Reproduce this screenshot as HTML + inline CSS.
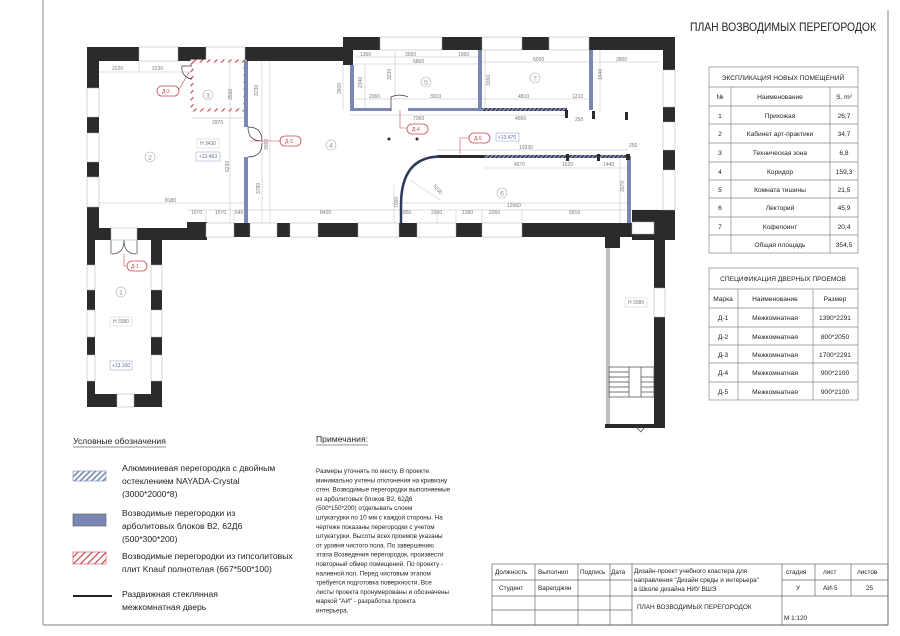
<!DOCTYPE html>
<html><head><meta charset="utf-8"><style>
html,body{margin:0;padding:0;background:#fff;}
svg{display:block;font-family:"Liberation Sans","DejaVu Sans",sans-serif;}
.d{font-size:5px;fill:#777;}
.t{font-size:7px;fill:#222;}
.lg{font-size:8.6px;fill:#222;}
.nt{font-size:6.3px;fill:#222;}
.tag{fill:#fff;stroke:#c8464f;stroke-width:0.8;}
.tagt{font-size:5px;fill:#c8464f;}
</style></head><body>
<svg width="900" height="636" viewBox="0 0 900 636" xmlns="http://www.w3.org/2000/svg">
<defs>
<pattern id="hb" width="4" height="4" patternUnits="userSpaceOnUse" patternTransform="rotate(45)">
<rect width="4" height="4" fill="#fff"/><rect width="1.6" height="4" fill="#7b88b5"/></pattern>
<pattern id="hr" width="5" height="5" patternUnits="userSpaceOnUse" patternTransform="rotate(45)">
<rect width="5" height="5" fill="#fff"/><rect width="1.2" height="5" fill="#c8464f"/></pattern>
<pattern id="hd" width="3" height="3" patternUnits="userSpaceOnUse" patternTransform="rotate(45)">
<rect width="3" height="3" fill="#7b88b5"/><rect width="1" height="3" fill="#222"/></pattern>
</defs>

<!-- frame -->
<g stroke="#999" stroke-width="1.2" fill="none">
<line x1="43" y1="0" x2="43" y2="625"/>
<line x1="43" y1="625" x2="888" y2="625"/>
<line x1="888" y1="10" x2="888" y2="625"/>
</g>
<text x="690" y="31" style="font-size:12px" fill="#222" textLength="186" lengthAdjust="spacingAndGlyphs">ПЛАН ВОЗВОДИМЫХ ПЕРЕГОРОДОК</text>

<!-- dimension lines -->
<g stroke="#bbb" stroke-width="0.5" fill="none">
<line x1="99" y1="72" x2="192" y2="72"/><line x1="139" y1="61" x2="139" y2="72"/>
<line x1="192" y1="118" x2="245" y2="118"/>
<line x1="230" y1="61" x2="230" y2="223"/>
<line x1="262" y1="61" x2="262" y2="223"/><line x1="270" y1="61" x2="270" y2="223"/>
<line x1="99" y1="203" x2="246" y2="203"/>
<line x1="187" y1="210" x2="400" y2="210"/>
<line x1="400" y1="210" x2="660" y2="210"/>
<line x1="400" y1="203" x2="628" y2="203"/>
<line x1="355" y1="57" x2="478" y2="57"/><line x1="355" y1="64" x2="478" y2="64"/>
<line x1="482" y1="62" x2="660" y2="62"/>
<line x1="355" y1="99" x2="478" y2="99"/><line x1="482" y1="99" x2="590" y2="99"/>
<line x1="350" y1="115" x2="478" y2="115"/><line x1="478" y1="115" x2="566" y2="115"/>
<line x1="437" y1="150" x2="628" y2="150"/><line x1="484" y1="168" x2="628" y2="168"/>
<line x1="343" y1="65" x2="343" y2="110"/><line x1="365" y1="65" x2="365" y2="110"/>
<line x1="395" y1="50" x2="395" y2="99"/><line x1="485" y1="50" x2="485" y2="110"/>
<line x1="600" y1="50" x2="600" y2="112"/><line x1="620" y1="158" x2="620" y2="223"/>
<line x1="394" y1="185" x2="394" y2="223"/>
<line x1="410" y1="180" x2="440" y2="200"/>
<line x1="206" y1="210" x2="206" y2="223"/><line x1="234" y1="210" x2="234" y2="223"/>
<line x1="437" y1="210" x2="437" y2="223"/><line x1="456" y1="210" x2="456" y2="223"/><line x1="482" y1="210" x2="482" y2="223"/><line x1="522" y1="210" x2="522" y2="223"/>
</g>
<g class="d">
<text x="112" y="70">2220</text><text x="152" y="70">2230</text><text x="212" y="124">2970</text>
<text x="165" y="202">8180</text><text x="191" y="214">1070</text><text x="215" y="214">1570</text><text x="235" y="214">640</text>
<text x="320" y="214">8420</text><text x="360" y="56">1360</text><text x="405" y="56">3550</text><text x="458" y="56">1950</text>
<text x="413" y="63">6860</text><text x="533" y="61">6020</text><text x="616" y="61">3900</text>
<text x="369" y="98">2060</text><text x="430" y="98">3910</text><text x="518" y="98">4810</text><text x="572" y="98">1210</text>
<text x="413" y="120">7360</text><text x="515" y="120">4660</text><text x="575" y="121">250</text>
<text x="519" y="149">10330</text><text x="629" y="147">250</text><text x="514" y="166">4570</text><text x="562" y="166">1620</text><text x="603" y="166">1440</text>
<text x="507" y="207">12660</text><text x="403" y="214">850</text><text x="431" y="214">2260</text><text x="462" y="214">1390</text><text x="489" y="214">2260</text><text x="569" y="214">5910</text><text x="638" y="214">1750</text>
<text transform="translate(232,100) rotate(-90)">3550</text><text transform="translate(258,96) rotate(-90)">3730</text>
<text transform="translate(268,150) rotate(-90)">3050</text><text transform="translate(229,172) rotate(-90)">6230</text>
<text transform="translate(260,194) rotate(-90)">3780</text><text transform="translate(341,94) rotate(-90)">2600</text>
<text transform="translate(362,88) rotate(-90)">2340</text><text transform="translate(391,80) rotate(-90)">3230</text>
<text transform="translate(490,86) rotate(-90)">3360</text><text transform="translate(602,80) rotate(-90)">1640</text>
<text transform="translate(624,192) rotate(-90)">3070</text><text transform="translate(398,208) rotate(-90)">7000</text>
<text transform="translate(433,186) rotate(50)">5230</text>
</g>

<!-- outer walls -->
<g fill="#2b2b2b">
<rect x="87" y="47" width="266" height="14"/>
<rect x="343" y="37" width="332" height="13"/>
<rect x="343" y="37" width="10" height="28"/>
<rect x="87" y="47" width="12" height="193"/>
<rect x="663" y="37" width="12" height="203"/>
<rect x="87" y="228" width="118" height="12"/>
<rect x="187" y="222" width="20" height="18"/>
<rect x="205" y="223" width="427" height="14"/>
<rect x="632" y="210" width="43" height="30"/>
<rect x="87" y="228" width="8" height="179"/>
<rect x="151" y="240" width="11" height="167"/>
<rect x="87" y="394" width="75" height="13"/>
<rect x="605" y="236" width="15" height="12"/>
<rect x="654" y="210" width="11" height="218"/>
<rect x="605" y="424" width="60" height="4"/>
</g>
<g fill="#fff" stroke="#aaa" stroke-width="0.5">
<rect x="139" y="47" width="39" height="14"/><rect x="206" y="47" width="39" height="14"/>
<rect x="380" y="37" width="62" height="13"/><rect x="482" y="37" width="40" height="13"/><rect x="549" y="37" width="40" height="13"/>
<rect x="87" y="88" width="12" height="29"/><rect x="87" y="133" width="12" height="29"/><rect x="87" y="177" width="12" height="30"/>
<rect x="663" y="70" width="12" height="37"/><rect x="663" y="122" width="12" height="28"/><rect x="663" y="170" width="12" height="40"/>
<rect x="206" y="223" width="28" height="14"/><rect x="250" y="223" width="27" height="14"/><rect x="290" y="223" width="28" height="14"/>
<rect x="358" y="223" width="41" height="14"/><rect x="417" y="223" width="39" height="14"/><rect x="482" y="223" width="40" height="14"/>
<rect x="87" y="265" width="8" height="25"/><rect x="87" y="310" width="8" height="27"/><rect x="87" y="355" width="8" height="26"/>
<rect x="151" y="265" width="11" height="25"/><rect x="151" y="310" width="11" height="27"/><rect x="151" y="355" width="11" height="26"/>
<rect x="117" y="394" width="17" height="13"/>
<rect x="111" y="228" width="26" height="12"/>
<rect x="654" y="288" width="11" height="29"/>
<rect x="632" y="222" width="22" height="12"/>
</g>
<g stroke="#444" stroke-width="0.7" fill="none">
<line x1="607" y1="248" x2="607" y2="424"/><line x1="609" y1="248" x2="609" y2="424"/>
<rect x="609" y="367" width="45" height="30"/>
<line x1="609" y1="372" x2="629" y2="372"/><line x1="609" y1="377" x2="629" y2="377"/><line x1="609" y1="382" x2="629" y2="382"/><line x1="609" y1="387" x2="629" y2="387"/><line x1="609" y1="392" x2="629" y2="392"/>
<line x1="629" y1="367" x2="629" y2="397"/><line x1="641" y1="367" x2="641" y2="397"/>
<line x1="641" y1="377" x2="654" y2="377"/><line x1="641" y1="382" x2="654" y2="382"/><line x1="641" y1="387" x2="654" y2="387"/><line x1="641" y1="392" x2="654" y2="392"/>
<path d="M637 428 l4 4 l3 -4"/>
<path d="M111 240 v14 M137 240 v14 M124 240 q0 14 -12 14 M124 240 q0 14 12 14"/>
</g>
<text x="628" y="304" class="d">Н 3380</text>
<rect x="625" y="298" width="22" height="9" fill="none" stroke="#ccc" stroke-width="0.5"/>

<!-- partitions -->
<rect x="192" y="61" width="53" height="49" fill="none" stroke="url(#hr)" stroke-width="3"/>
<g fill="#7b88b5">
<rect x="244" y="61" width="4" height="66"/>
<rect x="244" y="157" width="4" height="66"/>
<rect x="350" y="65" width="4" height="46"/>
<rect x="350" y="108" width="41" height="3"/>
<rect x="408" y="108" width="74" height="3"/>
<rect x="478" y="50" width="4" height="61"/>
<rect x="589" y="50" width="4" height="60"/>
<rect x="627" y="156" width="4" height="67"/>
</g>
<rect x="482" y="108" width="85" height="3" fill="url(#hd)"/>
<rect x="484" y="155" width="144" height="3" fill="url(#hd)"/>
<rect x="437" y="155" width="47" height="3" fill="#2b2b2b"/>
<path d="M401 223 L401 205 Q401 157 440 156.5" fill="none" stroke="#2b3a5a" stroke-width="2.5"/>
<g fill="#2b2b2b">
<rect x="565" y="110" width="3" height="8"/><rect x="592" y="111" width="3" height="8"/><rect x="625" y="112" width="3" height="8"/>
<rect x="566" y="154" width="3" height="7"/><rect x="597" y="154" width="3" height="7"/><rect x="626" y="154" width="4" height="6"/>
<circle cx="389" cy="139" r="1.5"/><circle cx="417" cy="139" r="1.5"/>
</g>
<g stroke="#333" stroke-width="0.7" fill="none">
<path d="M192 66 h-10 a11 11 0 0 0 10 13"/>
<path d="M248 127 q14 0 14 14 q-14 0 -14 -14 M248 157 q14 0 14 -14"/>
<path d="M391 111 v-14 a17 14 0 0 1 17 -0"/>
</g>

<g fill="none" stroke="#aaa" stroke-width="0.6">
<circle cx="150" cy="157" r="5"/><circle cx="208" cy="95" r="5"/><circle cx="331" cy="145" r="5"/>
<circle cx="426" cy="82" r="5"/><circle cx="535" cy="78" r="5"/><circle cx="502" cy="193" r="5"/><circle cx="121" cy="292" r="5"/>
</g>
<g style="font-size:7px" fill="#999" text-anchor="middle">
<text x="150" y="160">2</text><text x="208" y="98">3</text><text x="331" y="148">4</text><text x="426" y="85">5</text><text x="535" y="81">7</text><text x="502" y="196">6</text><text x="121" y="295">1</text>
</g>
<g class="d" text-anchor="middle">
<rect x="197" y="139" width="22" height="9" fill="none" stroke="#ccc" stroke-width="0.5"/><text x="208" y="145">Н 3430</text>
<rect x="196" y="152" width="24" height="9" fill="none" stroke="#8a9bc5" stroke-width="0.5"/><text x="208" y="158" fill="#5a6a9a">+13.463</text>
<rect x="496" y="133" width="23" height="8" fill="none" stroke="#8a9bc5" stroke-width="0.5"/><text x="507" y="139" fill="#5a6a9a">+13.470</text>
<rect x="110" y="317" width="22" height="9" fill="none" stroke="#ccc" stroke-width="0.5"/><text x="121" y="323">Н 3380</text>
<rect x="110" y="361" width="22" height="9" fill="none" stroke="#8a9bc5" stroke-width="0.5"/><text x="121" y="367" fill="#5a6a9a">+13.100</text>
</g>
<g stroke="#c8464f" stroke-width="0.6" fill="none">
<path d="M189 72 L180 88 L168 90"/><path d="M250 141 L280 141"/><path d="M400 110 v18 h10"/><path d="M460 154 v-16 h10"/><path d="M124 254 v12 h5"/>
</g>
<g>
<rect class="tag" x="157" y="86" width="22" height="10" rx="5"/><text class="tagt" x="162" y="93">Д-2</text>
<rect class="tag" x="280" y="136" width="21" height="10" rx="5"/><text class="tagt" x="285" y="143">Д-3</text>
<rect class="tag" x="407" y="124" width="21" height="10" rx="5"/><text class="tagt" x="412" y="131">Д-4</text>
<rect class="tag" x="469" y="133" width="21" height="10" rx="5"/><text class="tagt" x="474" y="140">Д-5</text>
<rect class="tag" x="127" y="261" width="20" height="10" rx="5"/><text class="tagt" x="131" y="268">Д-1</text>
</g>

<!-- tables -->
<g stroke="#888" stroke-width="0.7" fill="none">
<rect x="709" y="67" width="149" height="186"/>
<line x1="709" y1="87" x2="858" y2="87"/><line x1="709" y1="106" x2="858" y2="106"/><line x1="709" y1="124" x2="858" y2="124"/>
<line x1="709" y1="143" x2="858" y2="143"/><line x1="709" y1="162" x2="858" y2="162"/><line x1="709" y1="180" x2="858" y2="180"/>
<line x1="709" y1="198" x2="858" y2="198"/><line x1="709" y1="217" x2="858" y2="217"/><line x1="709" y1="235" x2="858" y2="235"/>
<line x1="731" y1="87" x2="731" y2="253"/><line x1="830" y1="87" x2="830" y2="253"/>
<rect x="709" y="268" width="149" height="132"/>
<line x1="709" y1="289" x2="858" y2="289"/><line x1="709" y1="308" x2="858" y2="308"/><line x1="709" y1="327" x2="858" y2="327"/>
<line x1="709" y1="345" x2="858" y2="345"/><line x1="709" y1="363" x2="858" y2="363"/><line x1="709" y1="382" x2="858" y2="382"/>
<line x1="738" y1="289" x2="738" y2="400"/><line x1="813" y1="289" x2="813" y2="400"/>
</g>
<g class="t" text-anchor="middle" style="font-size:6.6px">
<text x="783" y="80">ЭКСПЛИКАЦИЯ НОВЫХ ПОМЕЩЕНИЙ</text>
<text x="720" y="99">№</text><text x="780" y="99">Наименование</text><text x="844" y="99">S, m²</text>
<text x="720" y="118">1</text><text x="780" y="118">Прихожая</text><text x="844" y="118">26,7</text>
<text x="720" y="136">2</text><text x="780" y="136">Кабинет арт-практики</text><text x="844" y="136">34,7</text>
<text x="720" y="155">3</text><text x="780" y="155">Техническая зона</text><text x="844" y="155">6,8</text>
<text x="720" y="174">4</text><text x="780" y="174">Коридор</text><text x="844" y="174">159,3</text>
<text x="720" y="192">5</text><text x="780" y="192">Комната тишины</text><text x="844" y="192">21,5</text>
<text x="720" y="210">6</text><text x="780" y="210">Лекторий</text><text x="844" y="210">45,9</text>
<text x="720" y="229">7</text><text x="780" y="229">Кофепоинт</text><text x="844" y="229">20,4</text>
<text x="780" y="247">Общая площадь</text><text x="844" y="247">354,5</text>
<text x="783" y="281">СПЕЦИФИКАЦИЯ ДВЕРНЫХ ПРОЕМОВ</text>
<text x="723" y="301">Марка</text><text x="775" y="301">Наименование</text><text x="835" y="301">Размер</text>
<text x="723" y="320">Д-1</text><text x="775" y="320">Межкомнатная</text><text x="835" y="320">1390*2291</text>
<text x="723" y="339">Д-2</text><text x="775" y="339">Межкомнатная</text><text x="835" y="339">800*2050</text>
<text x="723" y="357">Д-3</text><text x="775" y="357">Межкомнатная</text><text x="835" y="357">1700*2291</text>
<text x="723" y="375">Д-4</text><text x="775" y="375">Межкомнатная</text><text x="835" y="375">900*2100</text>
<text x="723" y="394">Д-5</text><text x="775" y="394">Межкомнатная</text><text x="835" y="394">900*2100</text>
</g>

<!-- legend -->
<text x="73" y="444" class="lg">Условные обозначения</text>
<line x1="73" y1="447" x2="166" y2="447" stroke="#222" stroke-width="0.6"/>
<rect x="73" y="471" width="33" height="10" fill="url(#hb)" stroke="#7b88b5" stroke-width="0.6"/>
<rect x="73" y="514" width="33" height="12" fill="#7b88b5" stroke="#555" stroke-width="0.6"/>
<rect x="73" y="552" width="33" height="12" fill="url(#hr)" stroke="#c8464f" stroke-width="0.6"/>
<line x1="73" y1="596" x2="112" y2="596" stroke="#222" stroke-width="2"/>
<g class="lg">
<text x="122" y="471">Алюминиевая перегородка с двойным</text>
<text x="122" y="484">остеклением NAYADA-Crystal</text>
<text x="122" y="497">(3000*2000*8)</text>
<text x="122" y="516">Возводимые перегородки из</text>
<text x="122" y="529">арболитовых блоков В2, 62Д6</text>
<text x="122" y="542">(500*300*200)</text>
<text x="122" y="559">Возводимые перегородки из гипсолитовых</text>
<text x="122" y="572">плит Knauf полнотелая (667*500*100)</text>
<text x="122" y="597">Раздвижная стеклянная</text>
<text x="122" y="610">межкомнатная дверь</text>
</g>
<text x="316" y="442" class="lg">Примечания:</text>
<line x1="316" y1="445" x2="368" y2="445" stroke="#222" stroke-width="0.6"/>
<g class="nt">
<text x="316" y="473">Размеры уточнять по месту. В проекте</text>
<text x="316" y="482.3">минимально учтены отклонения на кривизну</text>
<text x="316" y="491.6">стен. Возводимые перегородки выполняемые</text>
<text x="316" y="500.9">из арболитовых блоков В2, 62Д6</text>
<text x="316" y="510.2">(500*150*200) отделывать слоем</text>
<text x="316" y="519.5">штукатурки по 10 мм с каждой стороны. На</text>
<text x="316" y="528.8">чертеже показаны перегородки с учетом</text>
<text x="316" y="538.1">штукатурки. Высоты всех проемов указаны</text>
<text x="316" y="547.4">от уровня чистого пола. По завершению</text>
<text x="316" y="556.7">этапа Возведения перегородок, произвести</text>
<text x="316" y="566">повторный обмер помещений. По проекту -</text>
<text x="316" y="575.3">наливной пол. Перед чистовым этапом</text>
<text x="316" y="584.6">требуется подготовка поверхности. Все</text>
<text x="316" y="593.9">листы проекта пронумерованы и обозначены</text>
<text x="316" y="603.2">маркой "АИ" - разработка проекта</text>
<text x="316" y="612.5">интерьера.</text>
</g>

<!-- title block -->
<g stroke="#666" stroke-width="0.7" fill="none">
<rect x="492" y="564" width="396" height="61"/>
<line x1="492" y1="580" x2="632" y2="580"/><line x1="492" y1="596" x2="632" y2="596"/><line x1="492" y1="610" x2="632" y2="610"/>
<line x1="782" y1="580" x2="888" y2="580"/><line x1="632" y1="596" x2="888" y2="596"/>
<line x1="535" y1="564" x2="535" y2="625"/><line x1="578" y1="564" x2="578" y2="625"/><line x1="610" y1="564" x2="610" y2="625"/><line x1="632" y1="564" x2="632" y2="625"/>
<line x1="782" y1="564" x2="782" y2="625"/><line x1="815" y1="564" x2="815" y2="596"/><line x1="851" y1="564" x2="851" y2="596"/>
</g>
<g class="t" style="font-size:6.4px">
<text x="495" y="574">Должность</text><text x="538" y="574">Выполнил</text><text x="580" y="574">Подпись</text><text x="611" y="574">Дата</text>
<text x="499" y="590">Студент</text><text x="538" y="590">Варелджян</text>
<text x="634" y="573">Дизайн-проект учебного кластера для</text>
<text x="634" y="582">направления "Дизайн среды и интерьера"</text>
<text x="634" y="591">в Школе дизайна НИУ ВШЭ</text>
<text x="637" y="609">ПЛАН ВОЗВОДИМЫХ ПЕРЕГОРОДОК</text>
<text x="786" y="574">стадия</text><text x="823" y="574">лист</text><text x="857" y="574">листов</text>
<text x="796" y="590">У</text><text x="823" y="590">АИ-5</text><text x="866" y="590">25</text>
<text x="784" y="620">М 1:120</text>
</g>
</svg>
</body></html>
